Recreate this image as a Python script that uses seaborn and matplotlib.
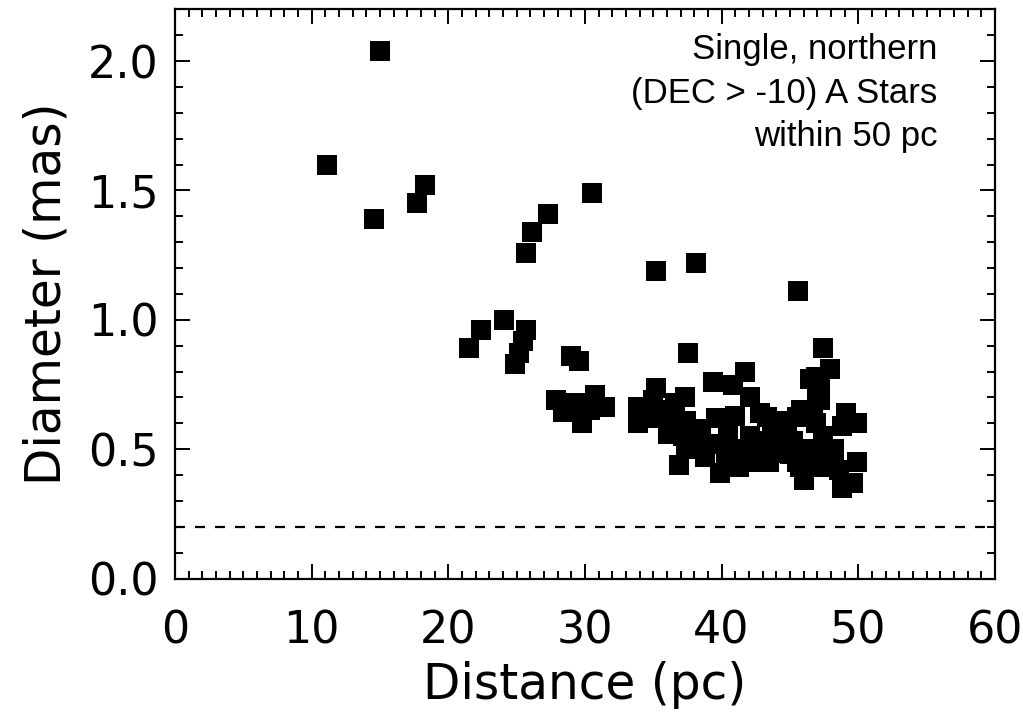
import numpy as np
import pandas as pd
import matplotlib
matplotlib.use("Agg")
import matplotlib.pyplot as plt
import seaborn as sns
from matplotlib.ticker import MultipleLocator

distance_pc = [
    11.1, 15.0, 14.6, 17.7, 18.3, 25.7, 26.1, 27.3, 30.5, 35.2, 38.1, 45.6,
    21.5, 22.4, 24.1, 25.7, 25.5, 25.2, 24.9, 28.95, 29.6, 37.55, 47.4,
    27.9, 28.4, 28.9, 29.75, 30.4, 30.7, 31.5, 29.3,
    33.9, 33.9, 35.2, 35.0, 36.0, 36.1, 37.3, 37.4, 36.9, 38.2, 37.4, 37.2,
    37.9, 39.1, 39.6, 39.9, 39.4, 40.8, 41.7, 42.1, 42.8, 43.3, 44.2, 40.5,
    41.0, 42.1, 42.3, 41.1, 44.0, 44.0, 41.3, 42.6, 43.5, 45.5, 46.0, 45.8,
    45.5, 46.7, 46.45, 46.9, 47.2, 47.9, 47.2, 46.9, 47.4, 48.2, 47.2, 48.8,
    49.6, 49.9, 48.2, 49.1, 49.9, 48.8, 36.5, 38.5, 35.3, 43.0, 45.0, 46.5,
    38.8, 40.3, 44.8, 45.7, 48.6, 36.6, 43.7, 47.8, 45.2, 47.0, 42.5, 40.0,
]
diameter_mas = [
    1.60, 2.04, 1.39, 1.45, 1.52, 1.26, 1.34, 1.41, 1.49, 1.19, 1.22, 1.11,
    0.89, 0.96, 1.00, 0.96, 0.92, 0.87, 0.83, 0.86, 0.84, 0.87, 0.89,
    0.69, 0.645, 0.665, 0.60, 0.65, 0.71, 0.665, 0.68,
    0.665, 0.60, 0.735, 0.69, 0.65, 0.56, 0.70, 0.61, 0.44, 0.52, 0.51, 0.55,
    0.50, 0.52, 0.62, 0.41, 0.76, 0.75, 0.80, 0.70, 0.64, 0.625, 0.61, 0.55,
    0.63, 0.55, 0.53, 0.50, 0.51, 0.485, 0.43, 0.45, 0.45, 0.45, 0.38, 0.65,
    0.625, 0.625, 0.77, 0.78, 0.74, 0.81, 0.69, 0.60, 0.55, 0.50, 0.43, 0.35,
    0.37, 0.45, 0.47, 0.64, 0.60, 0.59, 0.60, 0.58, 0.62, 0.50, 0.48, 0.50,
    0.47, 0.47, 0.55, 0.43, 0.42, 0.68, 0.56, 0.48, 0.53, 0.72, 0.47, 0.52,
]
limit_mas = 0.2
x_label = "Distance (pc)"
y_label = "Diameter (mas)"
note = "Single, northern\n(DEC > -10) A Stars\nwithin 50 pc"

df = pd.DataFrame({"Distance": distance_pc, "Diameter": diameter_mas})

sns.set_style("white")
plt.rcParams["font.family"] = ["DejaVu Sans"]
plt.rcParams.update({"text.color": "black", "axes.labelcolor": "black",
                     "xtick.color": "black", "ytick.color": "black"})

fig = plt.figure(figsize=(10.23, 7.25), dpi=100)
ax = fig.add_axes([0.171, 0.2019, 0.8016, 0.7853])

sns.scatterplot(data=df, x="Distance", y="Diameter", marker="s", s=190,
                color="black", linewidth=0, ax=ax, legend=False)
ax.axhline(limit_mas, color="black", lw=1.6, ls=(0, (4.5, 4.5)))

ax.set_xlim(0, 60)
ax.set_ylim(0, 2.2)
ax.xaxis.set_major_locator(MultipleLocator(10))
ax.xaxis.set_minor_locator(MultipleLocator(1))
ax.yaxis.set_major_locator(MultipleLocator(0.5))
ax.yaxis.set_minor_locator(MultipleLocator(0.1))
ax.yaxis.set_major_formatter(matplotlib.ticker.FormatStrFormatter("%.1f"))

for s in ax.spines.values():
    s.set_visible(True)
    s.set_color("black")
    s.set_linewidth(1.6)

ax.tick_params(which="both", direction="in", top=True, right=True,
               bottom=True, left=True, color="black", width=1.4,
               labelcolor="black")
ax.tick_params(which="major", length=11)
ax.tick_params(which="minor", length=6)
ax.tick_params(axis="x", which="major", labelsize=32, pad=22)
ax.tick_params(axis="y", which="major", labelsize=32, pad=12)

ax.set_xlabel(x_label, fontsize=35, labelpad=6, color="black")
ax.set_ylabel(y_label, fontsize=35, labelpad=12, color="black")

ax.text(0.930, 0.958, note, transform=ax.transAxes, ha="right", va="top",
        fontsize=25, family="Liberation Sans", linespacing=1.4, color="black")

fig.savefig("out.png", dpi=100)
